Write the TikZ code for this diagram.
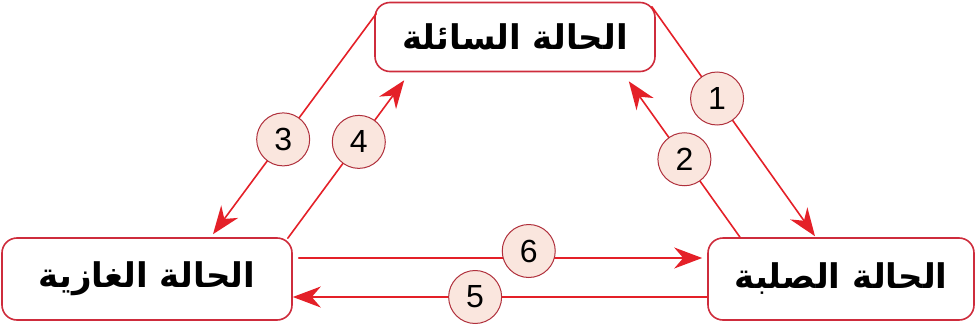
\documentclass[tikz,border=0pt]{standalone}
\usepackage{fontspec}
\setmainfont{Liberation Sans}
\newfontfamily\arabicfont[Script=Arabic]{DejaVu Sans}
\TeXXeTstate=1
\usetikzlibrary{arrows.meta}

\begin{document}
\begin{tikzpicture}[x=1pt,y=-1pt,line cap=round]
\definecolor{custcol_line}{RGB}{228, 32, 40}
\definecolor{custcol_box}{RGB}{206, 44, 60}
\definecolor{custcol_num}{RGB}{176, 48, 60}
\definecolor{custcol_fill}{RGB}{250, 230, 222}
\tikzset{
  statebox/.style={draw=custcol_box, line width=1.6pt, rounded corners=15pt, fill=white,
    inner sep=0pt, font=\arabicfont\bfseries\fontsize{34pt}{34pt}\selectfont},
  numdisk/.style={circle, draw=custcol_num, line width=1pt, fill=custcol_fill, minimum size=53pt,
    inner sep=0pt, font=\fontsize{32pt}{32pt}\selectfont},
  flow/.style={draw=custcol_line, line width=1.6pt, -{Stealth[length=28pt, width=21pt, inset=9pt]}}
}
\useasboundingbox (0,0) rectangle (976,329);
% the three states
\node[statebox, minimum width=280pt, minimum height=69pt] (liquid) at (515,37) {\beginR الحالة السائلة\endR};
\node[statebox, minimum width=290pt, minimum height=82pt] (gas) at (147,279) {\beginR الحالة الغازية\endR};
\node[statebox, minimum width=266pt, minimum height=82pt] (solid) at (841,279) {\beginR الحالة الصلبة\endR};
% ends of the connectors
\coordinate (t1) at ([shift={(-4,5)}]liquid.north east);
\coordinate (h1) at ([shift={(-26,-1)}]solid.north);
\coordinate (t2) at ([shift={(-101,0)}]solid.north);
\coordinate (h2) at ([shift={(-27,9)}]liquid.south east);
\coordinate (t3) at ([shift={(2,12)}]liquid.north west);
\coordinate (h3) at ([shift={(66,-3)}]gas.north);
\coordinate (t4) at ([shift={(-5,1)}]gas.north east);
\coordinate (h4) at ([shift={(30,8)}]liquid.south west);
\coordinate (t6) at ([shift={(6,-21)}]gas.east);
\coordinate (h6) at ([shift={(-5,-21)}]solid.west);
\coordinate (t5) at ([shift={(0,18)}]solid.west);
\coordinate (h5) at ([shift={(0,18)}]gas.east);
% the changes of state
\draw[flow] (t1) -- node[numdisk, pos=0.4] (n1) {1} (h1);
\draw[flow] (t2) -- node[numdisk, pos=0.5] (n2) {2} (h2);
\draw[flow] (t3) -- node[numdisk, pos=0.57] (n3) {3} (h3);
\draw[flow] (t4) -- node[numdisk, pos=0.61] (n4) {4} (h4);
\draw[flow] (t6) -- node[numdisk, pos=0.57, yshift=7pt] (n6) {6} (h6);
\draw[flow] (t5) -- node[numdisk, pos=0.56] (n5) {5} (h5);
\end{tikzpicture}
\end{document}
